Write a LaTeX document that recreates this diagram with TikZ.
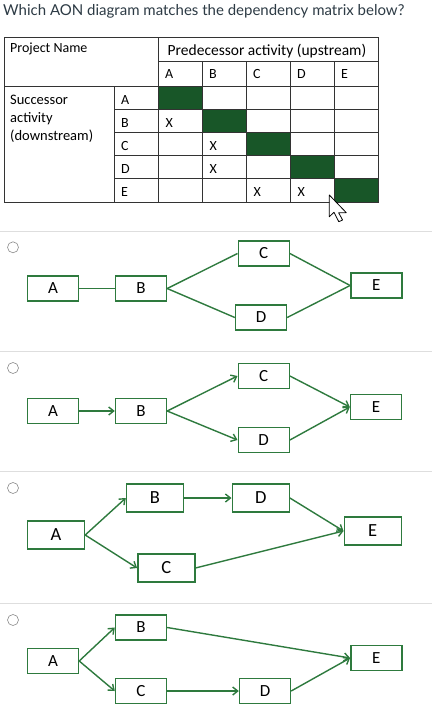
\documentclass[tikz,border=0pt]{standalone}
\usepackage{fontspec}
\setmainfont{Carlito}
\newfontfamily\latofont{Lato}
\usepackage{xcolor}
\usetikzlibrary{arrows.meta, positioning}
\definecolor{aongreen}{RGB}{46,122,62}
\definecolor{cellgreen}{RGB}{24,86,40}
\definecolor{qtext}{RGB}{45,59,69}

\begin{document}
\begin{tikzpicture}[x=1pt, y=-1pt, >={Straight Barb[length=5pt,width=8pt]},
		aon/.style={draw=aongreen, line width=1.4pt, minimum width=51pt, minimum height=25pt, inner sep=0pt, font=\fontsize{17}{17}\selectfont},
		bigaon/.style={aon, minimum width=57pt, minimum height=28pt, font=\fontsize{18.5}{18.5}\selectfont},
		link/.style={aongreen, line width=1.4pt},
		tabline/.style={black!80, line width=0.8pt},
		cell/.style={anchor=base west, inner sep=0pt, font=\fontsize{14}{14}\selectfont},
		radio/.style={draw=black!45, line width=0.6pt},
		sepline/.style={black!13, line width=0.8pt}]
	\useasboundingbox[fill=white] (0,0) rectangle (432,718);
	\node[anchor=base west, inner sep=0pt, text=qtext, font=\latofont\fontsize{15}{15}\selectfont] (title) at (3,15)
	{Which AON diagram matches the dependency matrix below?};
	\draw[tabline] (4,37) rectangle (378,202);
	\draw[tabline] (158,37) -- (158,202);
	\draw[tabline] (114,86) -- (114,202);
	\draw[tabline] (158,61.7) -- (378,61.7);
	\draw[tabline] (4,86) -- (378,86);
	\foreach \c in {1,...,4}
		\draw[tabline] (158+44*\c,61.7) -- (158+44*\c,202);
	\foreach \r in {1,...,4}
		\draw[tabline] (114,86+23.2*\r) -- (378,86+23.2*\r);
	\foreach \i in {0,...,4}
		\filldraw[tabline, fill=cellgreen] (158+44*\i,86+23.2*\i) rectangle ++(44,23.2);
	\node[cell] (project) at (10,52.7) {Project Name};
	\node[cell, anchor=base, font=\fontsize{15.5}{15.5}\selectfont] (pred) at (267,55) {Predecessor activity (upstream)};
	\node[cell, anchor=north west, align=left, font=\fontsize{14.5}{18}\selectfont] (succ) at (10,94.5)
	{Successor\\activity\\(downstream)};
	\foreach \l [count=\i from 0] in {A,B,C,D,E} {
		\node[cell] (col\l) at (165+44*\i,78.3) {\l};
		\node[cell] (row\l) at (121,104+23.2*\i) {\l};
	}
	\foreach \r/\c [count=\k] in {1/0,2/1,3/1,4/2,4/3}
		\node[cell] (x\k) at (165.5+44*\c,104+23.2*\r) {X};
	\begin{scope}[shift={(329.3,195)}]
		\filldraw[fill=white, draw=black, line width=0.8pt, line join=round]
		(0,0) -- (0,21.7) -- (4.7,17.3) -- (9.5,26.7) -- (13.3,25) -- (9.3,17.7) -- (17,17.7) -- cycle;
	\end{scope}
	\begin{scope}[shift={(0,231)}]
		\draw[sepline] (0,0) -- (432,0);
		\draw[radio] (13,16.3) circle (5.5pt);
		\node[aon] (a1) at (53,57.5) {A};
		\node[aon] (b1) at (141,57.5) {B};
		\node[aon] (c1) at (263.7,22.5) {C};
		\node[aon] (d1) at (261,86.5) {D};
		\node[aon] (e1) at (376.3,54.5) {E};
		\draw[link] (a1) -- (b1);
		\draw[link] (b1.east) -- (c1.west);
		\draw[link] (b1.east) -- (d1.west);
		\draw[link] (c1.east) -- (e1.west);
		\draw[link] (d1.east) -- (e1.west);
	\end{scope}
	\begin{scope}[shift={(0,351)}]
		\draw[sepline] (0,0) -- (432,0);
		\draw[radio] (13,17) circle (5.5pt);
		\node[aon] (a2) at (53,60) {A};
		\node[aon] (b2) at (141,60) {B};
		\node[aon] (c2) at (263.7,25) {C};
		\node[aon] (d2) at (263.7,89) {D};
		\node[aon] (e2) at (376,56) {E};
		\draw[link, ->] (a2) -- (b2);
		\draw[link, ->] (b2.east) -- (c2.west);
		\draw[link, ->] (b2.east) -- (d2.west);
		\draw[link, ->] (c2.east) -- (e2.west);
		\draw[link, ->] (d2.east) -- (e2.west);
	\end{scope}
	\begin{scope}[shift={(0,471)}]
		\draw[sepline] (0,0) -- (432,0);
		\draw[radio] (13,17) circle (5.5pt);
		\node[bigaon] (a3) at (56,64) {A};
		\node[bigaon] (b3) at (155,27) {B};
		\node[bigaon] (d3) at (260.7,27) {D};
		\node[bigaon] (c3) at (166.3,97) {C};
		\node[bigaon] (e3) at (372.7,60) {E};
		\draw[link, ->] (a3.east) -- (b3.west);
		\draw[link, ->] (a3.east) -- (c3.west);
		\draw[link, ->] (b3) -- (d3);
		\draw[link, ->] (d3.east) -- (e3.west);
		\draw[link, ->] (c3.east) -- (e3.west);
	\end{scope}
	\begin{scope}[shift={(0,603)}]
		\draw[sepline] (0,0) -- (432,0);
		\draw[radio] (13,17) circle (5.5pt);
		\node[aon] (a4) at (53,58) {A};
		\node[aon] (b4) at (141,24.5) {B};
		\node[aon] (c4) at (141,88) {C};
		\node[aon] (d4) at (265,88) {D};
		\node[aon] (e4) at (376.3,55) {E};
		\draw[link, ->] (a4.east) -- (b4.west);
		\draw[link, ->] (a4.east) -- (c4.west);
		\draw[link, ->] (b4.east) -- (e4.west);
		\draw[link, ->] (c4) -- (d4);
		\draw[link, ->] (d4.east) -- (e4.west);
	\end{scope}
\end{tikzpicture}
\end{document}
